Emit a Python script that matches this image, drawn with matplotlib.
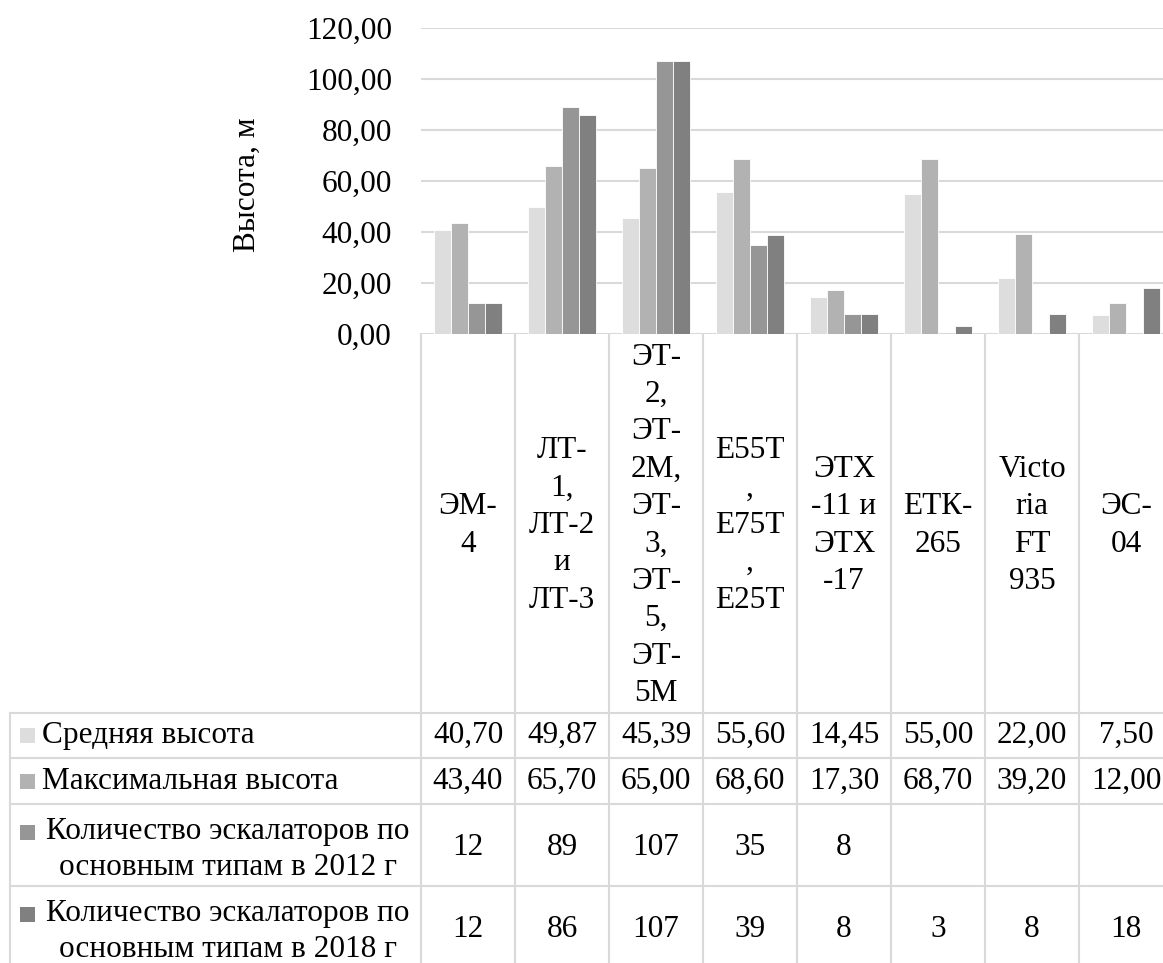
import numpy as np
import matplotlib
matplotlib.use('Agg')
import matplotlib.pyplot as plt
from matplotlib.patches import Rectangle
from matplotlib.transforms import blended_transform_factory

plt.rcParams['font.family'] = ['Liberation Serif', 'DejaVu Serif']

# Escalator types (wrapped as in the table header)
categories = ['ЭМ-\n4', 'ЛТ-\n1,\nЛТ-2\nи\nЛТ-3',
              'ЭТ-\n2,\nЭТ-\n2М,\nЭТ-\n3,\nЭТ-\n5,\nЭТ-\n5М',
              'E55T\n,\nE75T\n,\nE25T', 'ЭТХ\n-11 и\nЭТХ\n-17', 'ЕТК-\n265',
              'Victo\nria\nFT\n935', 'ЭС-\n04']
avg_height = [40.70, 49.87, 45.39, 55.60, 14.45, 55.00, 22.00, 7.50]
max_height = [43.40, 65.70, 65.00, 68.60, 17.30, 68.70, 39.20, 12.00]
count_2012 = [12, 89, 107, 35, 8, np.nan, np.nan, np.nan]
count_2018 = [12, 86, 107, 39, 8, 3, 8, 18]

series = [avg_height, max_height, count_2012, count_2018]
series_names = ['Средняя высота', 'Максимальная высота',
                'Количество эскалаторов по\nосновным типам в 2012 г',
                'Количество эскалаторов по\nосновным типам в 2018 г']
colors = ['#dddddd', '#b2b2b2', '#969696', '#808080']
yticks = [0, 20, 40, 60, 80, 100, 120]

W, H = 1163, 963
fs = 22.5
ls = 1.38
grid_col = '#d9d9d9'

fig = plt.figure(figsize=(W / 100, H / 100), dpi=100)

# bar chart area
ax = fig.add_axes([421 / W, 1 - 334 / H, 752 / W, 306 / H])
x = np.arange(len(categories))
bw = 17 / 94
for i, (vals, col) in enumerate(zip(series, colors)):
    ax.bar(x + (i - 1.5) * bw, vals, width=bw, color=col,
           edgecolor='white', linewidth=0.6, zorder=3)
ax.set_xlim(-0.5, len(categories) - 0.5)
ax.set_ylim(0, 120)
ax.set_yticks(yticks)
ax.set_yticklabels([f'{v:.2f}'.replace('.', ',') for v in yticks], fontsize=fs)
ax.set_xticks([])
ax.tick_params(axis='y', length=0, pad=21)
ax.grid(axis='y', color=grid_col, linewidth=1.5, zorder=0)
for s in ax.spines.values():
    s.set_visible(False)
ax.set_axisbelow(True)

fig.text(247 / W, 1 - 185 / H, 'Высота, м', rotation=90,
         ha='center', va='center', fontsize=fs)

# data table below the bars, drawn in pixel coordinates
ov = fig.add_axes([0, 0, 1, 1], zorder=-1)
ov.set_xlim(0, W)
ov.set_ylim(H, 0)
ov.axis('off')
tr = blended_transform_factory(ax.transData, ov.transData)

header_top, header_bot = 334, 712.7
row_edges = [712.7, 758.3, 804, 885.7, 967.4]
left_edge = 9.5

for k in range(len(categories) + 1):
    ov.plot([k - 0.5, k - 0.5], [header_top, H + 10], color=grid_col, lw=1.5,
            transform=tr, clip_on=False)
ov.plot([left_edge, left_edge], [row_edges[0], H + 10], color=grid_col, lw=1.5)
for y in row_edges:
    ov.plot([left_edge, W + 20], [y, y], color=grid_col, lw=1.5, clip_on=False)

for i, lab in enumerate(categories):
    ov.text(i, (header_top + header_bot) / 2 + 2, lab, transform=tr,
            ha='center', va='center', fontsize=fs, linespacing=ls,
            clip_on=False)

for r, (vals, name, col) in enumerate(zip(series, series_names, colors)):
    yc = (row_edges[r] + row_edges[r + 1]) / 2
    if r >= 2:
        yc += 3
    for i, v in enumerate(vals):
        if np.isnan(v):
            continue
        txt = f'{v:.2f}'.replace('.', ',') if r < 2 else f'{int(v)}'
        ov.text(i, yc, txt, transform=tr, ha='center', va='center',
                fontsize=fs, clip_on=False)
    if '\n' in name:
        ov.text(228, yc + 2, name, ha='center', va='center', fontsize=fs,
                multialignment='center', linespacing=1.32)
        ykey = yc + 2 - 17.5
    else:
        ov.text(42, yc, name, ha='left', va='center', fontsize=fs)
        ykey = yc
    ov.add_patch(Rectangle((20, ykey - 7.5), 15, 15, color=col, lw=0))

fig.savefig('out.png', dpi=100)
